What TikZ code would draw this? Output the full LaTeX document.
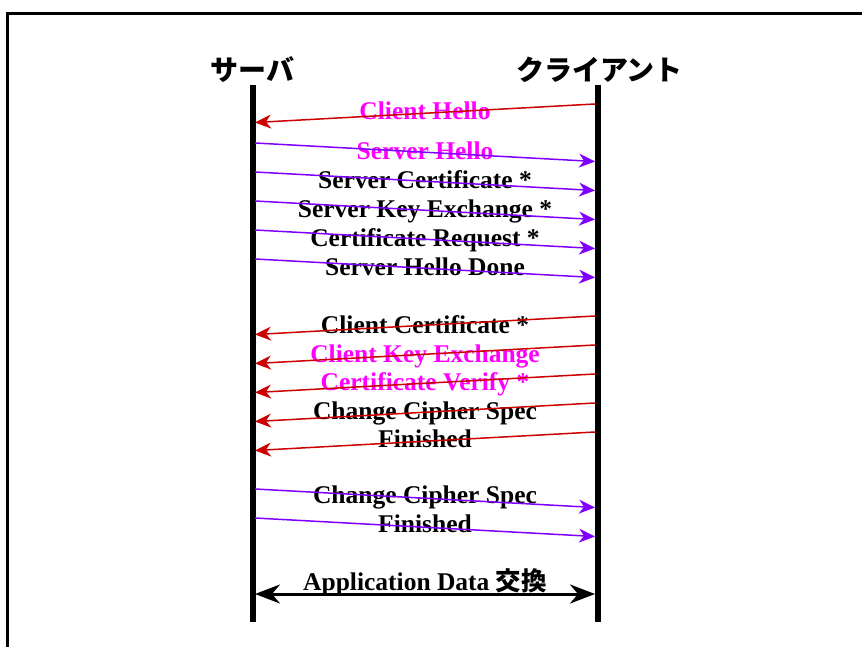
\documentclass[tikz,border=0pt]{standalone}
\usepackage{fontspec}
\setmainfont{Liberation Serif}
\newfontfamily\cjk{Noto Sans CJK JP}
\usetikzlibrary{arrows.meta}
\definecolor{cred}{HTML}{CC0000}
\definecolor{cviolet}{HTML}{7F00FF}
\definecolor{cmag}{HTML}{FF00FF}
\begin{document}
\begin{tikzpicture}[x=1pt,y=-1pt,
  lbl/.style={font=\bfseries\fontsize{25.5}{25.5}\selectfont, anchor=base, inner sep=0pt, yshift=-1.5pt},
  head/.style={font=\cjk\bfseries\fontsize{28}{28}\selectfont, anchor=base, inner sep=0pt},
  life/.style={line width=6pt},
  toS/.style={cred, line width=1.5pt, -{Stealth[length=16pt,width=14pt,inset=5pt]}},
  toC/.style={cviolet, line width=1.5pt, -{Stealth[length=16pt,width=14pt,inset=5pt]}},
  both/.style={black, line width=3pt, {Stealth[length=25pt,width=19pt,inset=8pt]}-{Stealth[length=25pt,width=19pt,inset=8pt]}}
]
\useasboundingbox (0,0) rectangle (862,647);
% frame
\draw[line width=3pt] (7.5,647) -- (7.5,14) -- (862,14);
% headers
\node[head] (hs) at (252.5,80.5) {サーバ};
\node[head] (hc) at (599.5,80.5) {クライアント};
% lifelines
\coordinate (sTop) at (252.5,85);
\coordinate (sBot) at (252.5,622);
\coordinate (cTop) at (598,85);
\coordinate (cBot) at (598,622);
\draw[life] (sTop) -- (sBot);
\draw[life] (cTop) -- (cBot);
% labels
\node[lbl, text=cmag] (l1) at (425,118) {Client Hello};
\node[lbl, text=cmag] (l2) at (425,158) {Server Hello};
\node[lbl] (l3) at (425,187) {Server Certificate *};
\node[lbl] (l4) at (425,216) {Server Key Exchange *};
\node[lbl] (l5) at (425,245) {Certificate Request *};
\node[lbl] (l6) at (425,274) {Server Hello Done};
\node[lbl] (l7) at (425,332) {Client Certificate *};
\node[lbl, text=cmag] (l8) at (425,361) {Client Key Exchange};
\node[lbl, text=cmag] (l9) at (425,389) {Certificate Verify *};
\node[lbl] (l10) at (425,418) {Change Cipher Spec};
\node[lbl] (l11) at (425,446) {Finished};
\node[lbl] (l12) at (425,502) {Change Cipher Spec};
\node[lbl] (l13) at (425,531) {Finished};
\node[lbl] (l14) at (425,589) {Application Data {\cjk\bfseries 交換}};
% messages client -> server (red)
\foreach \i/\y in {1/104, 7/316, 8/345, 9/374, 10/403, 11/432}{
  \coordinate (a\i) at (595,\y);
  \coordinate (b\i) at (255,\y+18.5);
  \draw[toS] (a\i) -- (b\i);
}
% messages server -> client (violet)
\foreach \i/\y in {2/143, 3/172, 4/201, 5/230, 6/259, 12/489, 13/518}{
  \coordinate (a\i) at (255,\y);
  \coordinate (b\i) at (595,\y+18.5);
  \draw[toC] (a\i) -- (b\i);
}
% application data
\coordinate (ad1) at (255,594);
\coordinate (ad2) at (595,594);
\draw[both] (ad1) -- (ad2);
\end{tikzpicture}
\end{document}
